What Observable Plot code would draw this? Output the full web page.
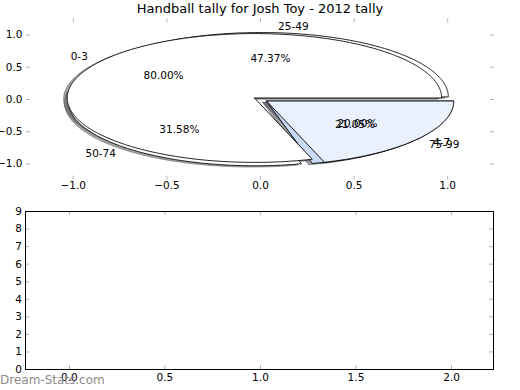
<!DOCTYPE html>
<html><head><meta charset="utf-8">
<script src="https://cdn.jsdelivr.net/npm/d3@7"></script>
<script src="https://cdn.jsdelivr.net/npm/@observablehq/plot@0.6"></script>
<style>
body{margin:0;background:#fff;}
#root{position:relative;width:520px;height:390px;overflow:hidden;font-family:"DejaVu Sans",sans-serif;}
#title{position:absolute;left:0;width:520px;top:1px;text-align:center;font-size:13px;line-height:16px;color:#000;white-space:nowrap;}
#wm{position:absolute;left:0;top:373px;font-size:12px;line-height:14px;color:#8c8c8c;white-space:nowrap;}
.panel{position:absolute;left:0;}
</style></head><body>
<div id="root">
<div id="top" class="panel" style="top:0"></div>
<div id="bot" class="panel" style="top:200px"></div>
<div id="title"></div>
<div id="wm"></div>
</div>
<script>
const chartTitle = "Handball tally for Josh Toy - 2012 tally";
const watermark = "Dream-Stats.com";
const pie1Labels = ["0-3", "4-7"];
const pie1Values = [4, 1];
const pie1Colors = ["#ffffff", "#eaf1fd"];
const pie2Labels = ["25-49", "50-74", "75-99"];
const pie2Values = [9, 6, 4];
const pie2Colors = ["#ffffff", "#ffffff", "#c8daf7"];
const topTicks = [-1, -0.5, 0, 0.5, 1];
const bottomXTicks = [0, 0.5, 1, 1.5, 2];
const bottomYTicks = [0, 1, 2, 3, 4, 5, 6, 7, 8, 9];

document.getElementById("title").textContent = chartTitle;
document.getElementById("wm").textContent = watermark;

const EXPLODE = 0.04;
function pie(labels, values, colors) {
  const total = d3.sum(values);
  let t = 0;
  return values.map((v, i) => {
    const a0 = t / total * 360, a1 = (t + v) / total * 360; t += v;
    const mid = (a0 + a1) / 2 * Math.PI / 180;
    const cx = EXPLODE * Math.cos(mid), cy = EXPLODE * Math.sin(mid);
    const pts = [{x: cx, y: cy}];
    const n = Math.max(4, Math.ceil((a1 - a0) * 2));
    for (let k = 0; k <= n; k++) {
      const a = (a0 + (a1 - a0) * k / n) * Math.PI / 180;
      pts.push({x: cx + Math.cos(a), y: cy + Math.sin(a)});
    }
    pts.push({x: cx, y: cy});
    return {
      label: labels[i], pct: (v / total * 100).toFixed(2) + "%", color: colors[i], pts,
      lx: cx + 1.1 * Math.cos(mid), ly: cy + 1.1 * Math.sin(mid),
      px: cx + 0.6 * Math.cos(mid), py: cy + 0.6 * Math.sin(mid)
    };
  });
}
const w2 = pie(pie2Labels, pie2Values, pie2Colors);
const w1 = pie(pie1Labels, pie1Values, pie1Colors);
const all = [...w2, ...w1];
const shade = c => { const r = d3.rgb(c); return `rgb(${Math.round(r.r*0.3)},${Math.round(r.g*0.3)},${Math.round(r.b*0.3)})`; };

const FS = 10.5;
const tickColor = "#b4b4b4";
const TL = 4;

// top panel
const tW = 520, tH = 200, tML = 26, tMR = 26, tMT = 18.5, tMB = 20.5;
const tIW = tW - tML - tMR, tIH = tH - tMT - tMB;
const topPlot = Plot.plot({
  width: tW, height: tH, marginLeft: tML, marginRight: tMR, marginTop: tMT, marginBottom: tMB,
  style: {fontFamily: "DejaVu Sans", fontSize: FS + "px", color: "#000", background: "transparent"},
  x: {domain: [-1.25, 1.25]},
  y: {domain: [-1.25, 1.25]},
  marks: [
    ...all.map(w => Plot.line(w.pts.map(p => ({x: p.x - 0.02, y: p.y - 0.02})), {
      x: "x", y: "y", fill: shade(w.color), fillOpacity: 0.5, stroke: shade(w.color), strokeOpacity: 0.5, strokeWidth: 0.9
    })),
    ...all.map(w => Plot.line(w.pts, {
      x: "x", y: "y", fill: w.color, stroke: "#000", strokeWidth: 0.9, strokeLinejoin: "miter", strokeMiterlimit: 10
    })),
    Plot.text(all.filter(w => w.lx > 0), {x: "lx", y: "ly", text: "label", textAnchor: "start", fontSize: FS, fill: "#000"}),
    Plot.text(all.filter(w => w.lx <= 0), {x: "lx", y: "ly", text: "label", textAnchor: "end", fontSize: FS, fill: "#000"}),
    Plot.text(all, {x: "px", y: "py", text: "pct", fontSize: FS, fill: "#000"}),
    Plot.tickX(topTicks, {x: d => d, stroke: tickColor, insetBottom: tIH - TL}),
    Plot.tickX(topTicks, {x: d => d, stroke: tickColor, insetTop: tIH - TL}),
    Plot.tickY(topTicks, {y: d => d, stroke: tickColor, insetRight: tIW - TL}),
    Plot.tickY(topTicks, {y: d => d, stroke: tickColor, insetLeft: tIW - TL}),
    Plot.axisX(topTicks, {tickSize: 0, tickPadding: 1.5, tickFormat: d3.format(".1f"), label: null, fontSize: FS}),
    Plot.axisY(topTicks, {tickSize: 0, tickPadding: 4, tickFormat: d3.format(".1f"), label: null, fontSize: FS})
  ]
});
document.getElementById("top").appendChild(topPlot);

// bottom panel
const bW = 520, bH = 190, bML = 25, bMR = 27, bMT = 11, bMB = 21;
const bIW = bW - bML - bMR, bIH = bH - bMT - bMB;
const botPlot = Plot.plot({
  width: bW, height: bH, marginLeft: bML, marginRight: bMR, marginTop: bMT, marginBottom: bMB,
  style: {fontFamily: "DejaVu Sans", fontSize: FS + "px", color: "#000", background: "transparent"},
  x: {domain: [-0.23, 2.22]},
  y: {domain: [0, 9]},
  marks: [
    Plot.tickX(bottomXTicks, {x: d => d, stroke: tickColor, insetBottom: bIH - TL}),
    Plot.tickX(bottomXTicks, {x: d => d, stroke: tickColor, insetTop: bIH - TL}),
    Plot.tickY(bottomYTicks, {y: d => d, stroke: tickColor, insetRight: bIW - TL}),
    Plot.tickY(bottomYTicks, {y: d => d, stroke: tickColor, insetLeft: bIW - TL}),
    Plot.frame({stroke: "#000", strokeWidth: 1}),
    Plot.axisX(bottomXTicks, {tickSize: 0, tickPadding: 4, tickFormat: d3.format(".1f"), label: null, fontSize: FS}),
    Plot.axisY(bottomYTicks, {tickSize: 0, tickPadding: 3.5, tickFormat: d3.format("d"), label: null, fontSize: FS})
  ]
});
document.getElementById("bot").appendChild(botPlot);
</script>
</body></html>
